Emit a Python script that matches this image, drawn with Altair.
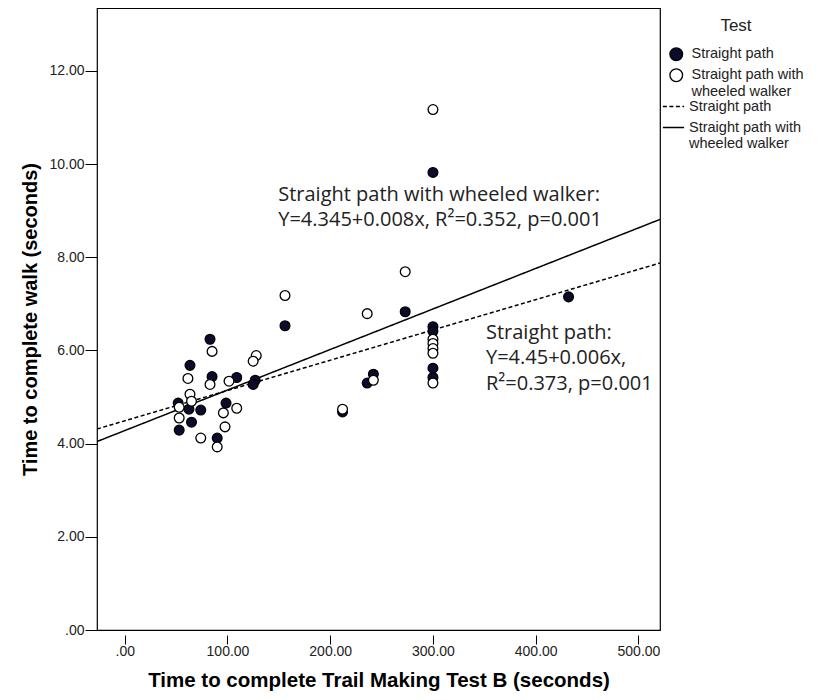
import altair as alt
import pandas as pd

SP = "Straight path"
WW = "Straight path with wheeled walker"

# Straight path (filled points)
sp_x = [300, 273, 156, 432, 300, 300, 300, 300, 236, 242, 212, 83, 63.5, 85, 109, 127, 125,
        52, 62.5, 74, 98.6, 65, 53, 90]
sp_y = [9.82, 6.83, 6.53, 7.15, 6.51, 6.41, 5.62, 5.42, 5.30, 5.49, 4.68, 6.24, 5.68, 5.44, 5.42,
        5.36, 5.27, 4.87, 4.74, 4.72, 4.87, 4.46, 4.29, 4.12]

# Straight path with wheeled walker (open points)
ww_x = [300, 273, 156, 236, 300, 300, 300, 300, 300, 242, 212, 85, 61.5, 83, 101.5, 128, 125,
        63.5, 65, 53, 96, 109, 53, 97.6, 74, 90]
ww_y = [11.17, 7.69, 7.18, 6.79, 6.24, 6.15, 6.04, 5.94, 5.30, 5.36, 4.74, 5.98, 5.40, 5.27, 5.34,
        5.89, 5.77, 5.06, 4.91, 4.78, 4.66, 4.76, 4.55, 4.36, 4.12, 3.93]

# Fit lines as drawn
line_groups = [SP + " fit", WW + " fit"]
intercepts = [4.49, 4.28]
slopes = [0.0065, 0.0087]

x_domain = [-27, 521]
y_domain = [0, 13.35]
x_ticks = [0, 100, 200, 300, 400, 500]
y_ticks = [0, 2, 4, 6, 8, 10, 12]

ann_text = ["Straight path with wheeled walker:", "Y=4.345+0.008x, R²=0.352, p=0.001",
            "Straight path:", "Y=4.45+0.006x,", "R²=0.373, p=0.001"]
ann_x = [149.4, 149.4, 351.6, 351.6, 351.6]
ann_y = [9.33, 8.80, 6.38, 5.83, 5.27]

pts = pd.DataFrame({
    "tmt": sp_x + ww_x,
    "walk": sp_y + ww_y,
    "Test": [SP] * len(sp_x) + [WW] * len(ww_x),
})

rows = []
for g, b, m in zip(line_groups, intercepts, slopes):
    for xv in x_domain:
        rows.append({"tmt": xv, "walk": b + m * xv, "Line": g})
lines = pd.DataFrame(rows)

ann = pd.DataFrame({"tmt": ann_x, "walk": ann_y, "text": ann_text})

fmt = "datum.value == 0 ? '.00' : format(datum.value, '.2f')"
wrap_pts = ("datum.label == 'Straight path with wheeled walker' ? "
            "['Straight path with', 'wheeled walker'] : datum.label")
wrap_lines = ("datum.label == 'Straight path with wheeled walker fit' ? "
              "['Straight path with', 'wheeled walker'] : 'Straight path'")

xenc = alt.X("tmt:Q", scale=alt.Scale(domain=x_domain, nice=False, zero=False),
             axis=alt.Axis(values=x_ticks, labelExpr=fmt, grid=False, domain=False, offset=5,
                           tickSize=9, tickColor="black", labelFont="Liberation Sans",
                           labelFontSize=14, labelColor="#222", labelPadding=0,
                           title="Time to complete Trail Making Test B (seconds)",
                           titleFont="Liberation Sans", titleFontSize=20.5, titleFontWeight="bold",
                           titleColor="black", titlePadding=12))
yenc = alt.Y("walk:Q", scale=alt.Scale(domain=y_domain, nice=False),
             axis=alt.Axis(values=y_ticks, labelExpr=fmt, grid=False, domain=False,
                           tickSize=12, tickColor="black", labelFont="Liberation Sans",
                           labelFontSize=14, labelColor="#222", labelPadding=1,
                           title="Time to complete walk (seconds)",
                           titleFont="Liberation Sans", titleFontSize=20, titleFontWeight="bold",
                           titleColor="black", titlePadding=8))

line_layer = alt.Chart(lines).mark_line(color="black", strokeWidth=1.5, clip=True).encode(
    x=xenc, y=yenc,
    strokeDash=alt.StrokeDash("Line:N",
        scale=alt.Scale(domain=line_groups, range=[[4, 2.5], [1, 0]]),
        legend=alt.Legend(title=None, orient="none", legendX=565, legendY=87,
                          symbolType="stroke", symbolStrokeColor="black", symbolStrokeWidth=1.3,
                          symbolSize=450, labelFont="Liberation Sans", labelFontSize=14.5,
                          labelColor="#222", labelOffset=4, rowPadding=3, labelLimit=200,
                          labelExpr=wrap_lines)),
)

point_layer = alt.Chart(pts).mark_point(shape="circle", size=95, stroke="black", strokeWidth=1.3,
                                        opacity=1, filled=True).encode(
    x="tmt:Q", y="walk:Q",
    fill=alt.Fill("Test:N",
        scale=alt.Scale(domain=[SP, WW], range=["#0b0b2e", "white"]),
        legend=alt.Legend(title="Test", orient="none", legendX=572, legendY=10,
                          titleFont="Liberation Sans", titleFontSize=17, titleFontWeight="normal",
                          titleColor="#222", titleAnchor="middle", titlePadding=12,
                          symbolType="circle", symbolSize=160, symbolStrokeColor="black",
                          symbolStrokeWidth=1.3, labelFont="Liberation Sans", labelFontSize=14.5,
                          labelColor="#222", labelOffset=8, rowPadding=2, labelLimit=200,
                          labelExpr=wrap_pts)),
)

text_layer = alt.Chart(ann).mark_text(font="Open Sans", fontSize=20, align="left",
                                      baseline="middle", color="#222").encode(
    x="tmt:Q", y="walk:Q", text="text:N")

chart = alt.layer(line_layer, point_layer, text_layer).properties(
    width=563, height=622,
    background="white",
    autosize=alt.AutoSizeParams(type="none"),
    padding={"left": 89, "top": 0, "right": 152, "bottom": 70},
).configure_view(stroke="black", strokeWidth=1.2)

chart.save("out.html", embed_options={"renderer": "svg", "actions": False})
